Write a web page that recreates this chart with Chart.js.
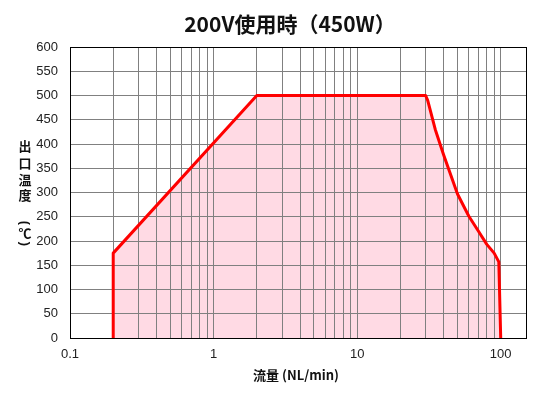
<!DOCTYPE html>
<html>
<head>
<meta charset="utf-8">
<script src="https://cdn.jsdelivr.net/npm/chart.js@4.4.1/dist/chart.umd.min.js"></script>
<style>
  html, body { margin: 0; padding: 0; background: #fff; }
  #wrap { width: 552px; height: 400px; position: relative; }
</style>
</head>
<body>
<div id="wrap"><canvas id="c"></canvas></div>
<script>
// ---- data ----
const flow = [0.2, 0.2, 2, 30, 31, 35, 40, 50, 60, 70, 80, 90, 97, 100];
const temp = [0, 175, 500, 500, 490, 430, 378, 297, 251, 220, 193, 175, 157, 0];
const xGridValues = [0.1,0.2,0.3,0.4,0.5,0.6,0.7,0.8,0.9,1,2,3,4,5,6,7,8,9,10,20,30,40,50,60,70,80,90,100];
const xLabelValues = [0.1, 1, 10, 100];
const titleText = '200V使用時（450W）';
const xTitleText = '流量 (NL/min)';
const yTitleChars = ['出', '口', '温', '度'];
const yTitleUnit = ['(', '℃', ')'];

const points = flow.map((f, i) => ({ x: f, y: temp[i] }));

const decorPlugin = {
  id: 'decor',
  afterDatasetDraw(chart, args) {
    if (args.index === 1) {
      chart.scales.x.drawGrid(chart.chartArea);
      chart.scales.y.drawGrid(chart.chartArea);
    }
  },
  afterDraw(chart) {
    const ctx = chart.ctx;
    const a = chart.chartArea;
    ctx.save();
    ctx.strokeStyle = '#000';
    ctx.lineWidth = 1;
    ctx.strokeRect(Math.round(a.left) + 0.5, Math.round(a.top) + 0.5,
                   Math.round(a.right - a.left), Math.round(a.bottom - a.top));
    ctx.fillStyle = '#111';
    ctx.textAlign = 'center';
    ctx.textBaseline = 'middle';
    ctx.font = 'bold 21px "Noto Sans CJK JP"';
    ctx.fillText(titleText, 290, 24);
    ctx.font = 'bold 13px "Noto Sans CJK JP"';
    ctx.fillText(xTitleText, 296, 375);
    const ys = [146, 163, 180, 195];
    yTitleChars.forEach((ch, i) => ctx.fillText(ch, 25, ys[i]));
    // unit: parentheses rotated, degree sign upright
    const uys = [223, 233, 244];
    ctx.font = 'bold 13px "Liberation Sans"';
    [0, 2].forEach(i => {
      ctx.save();
      ctx.translate(25, uys[i]);
      ctx.rotate(Math.PI / 2);
      ctx.fillText(yTitleUnit[i], 0, 0);
      ctx.restore();
    });
    ctx.font = 'bold 13px "Noto Sans CJK JP"';
    ctx.fillText(yTitleUnit[1], 25, uys[1]);
    ctx.restore();
  }
};

new Chart(document.getElementById('c'), {
  type: 'line',
  data: {
    datasets: [
      {
        data: points,
        borderColor: '#ff0000',
        borderWidth: 3,
        fill: false,
        pointRadius: 0,
        tension: 0,
        borderJoinStyle: 'round'
      },
      {
        data: points,
        borderWidth: 0,
        borderColor: 'rgba(0,0,0,0)',
        backgroundColor: 'rgb(255,218,228)',
        fill: 'origin',
        pointRadius: 0,
        tension: 0
      }
    ]
  },
  options: {
    responsive: true,
    maintainAspectRatio: false,
    animation: false,
    layout: { padding: { top: 47, right: 26, left: 0, bottom: 0 } },
    plugins: { legend: { display: false }, tooltip: { enabled: false }, title: { display: false } },
    scales: {
      x: {
        type: 'logarithmic',
        min: 0.1,
        max: 150,
        afterBuildTicks(scale) {
          scale.ticks = xGridValues.map(v => ({ value: v }));
        },
        afterFit(scale) { scale.height = 62; },
        grid: { color: '#808080', lineWidth: 1, drawTicks: false },
        border: { display: false },
        ticks: {
          autoSkip: false,
          maxRotation: 0,
          padding: 9,
          color: '#222',
          font: { family: 'Liberation Sans', size: 13 },
          callback(v) {
            return xLabelValues.includes(v) ? String(v) : '';
          }
        }
      },
      y: {
        min: 0,
        max: 600,
        afterFit(scale) { scale.width = 70; },
        grid: { color: '#808080', lineWidth: 1, drawTicks: false },
        border: { display: false },
        ticks: {
          stepSize: 50,
          padding: 12,
          color: '#222',
          font: { family: 'Liberation Sans', size: 13 }
        }
      }
    }
  },
  plugins: [decorPlugin]
});
</script>
</body>
</html>
